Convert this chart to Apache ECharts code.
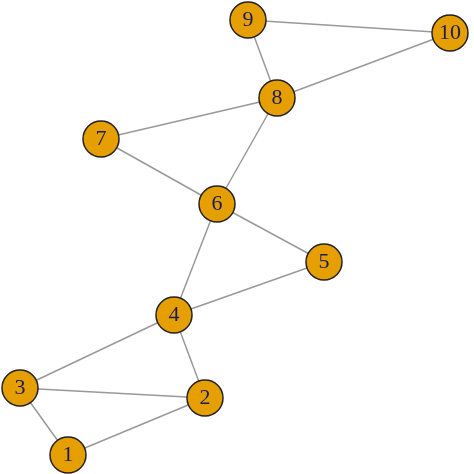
<!DOCTYPE html>
<html>
<head>
<meta charset="utf-8">
<script src="https://cdn.jsdelivr.net/npm/echarts@6/dist/echarts.min.js"></script>
</head>
<body style="margin:0">
<div id="main" style="width:474px;height:474px;"></div>
<script>
var nodeNames = ['1', '2', '3', '4', '5', '6', '7', '8', '9', '10'];
var nodeX = [68, 205, 20, 174, 324, 217, 101, 277, 248, 450];
var nodeY = [455, 398, 388, 315, 262, 204, 139, 98, 20, 33];
var edgeFrom = ['1', '1', '3', '3', '2', '4', '4', '6', '6', '6', '7', '8', '8', '9'];
var edgeTo   = ['2', '3', '2', '4', '4', '5', '6', '5', '7', '8', '8', '9', '10', '10'];

var chart = echarts.init(document.getElementById('main'));
var option = {
    backgroundColor: '#fff',
    series: [{
        type: 'graph',
        layout: 'none',
        left: 20, top: 20, width: 430, height: 435,
        symbolSize: 36,
        itemStyle: { color: '#E69F00', borderColor: '#222', borderWidth: 1.5 },
        label: {
            show: true, position: 'inside',
            fontFamily: 'Liberation Serif', fontSize: 22, color: '#1c1c5a'
        },
        lineStyle: { color: '#999', width: 1.5, opacity: 1 },
        data: nodeNames.map(function (n, i) {
            return { name: n, x: nodeX[i], y: nodeY[i] };
        }),
        links: edgeFrom.map(function (s, i) {
            return { source: s, target: edgeTo[i] };
        })
    }]
};
chart.setOption(option);
</script>
</body>
</html>
